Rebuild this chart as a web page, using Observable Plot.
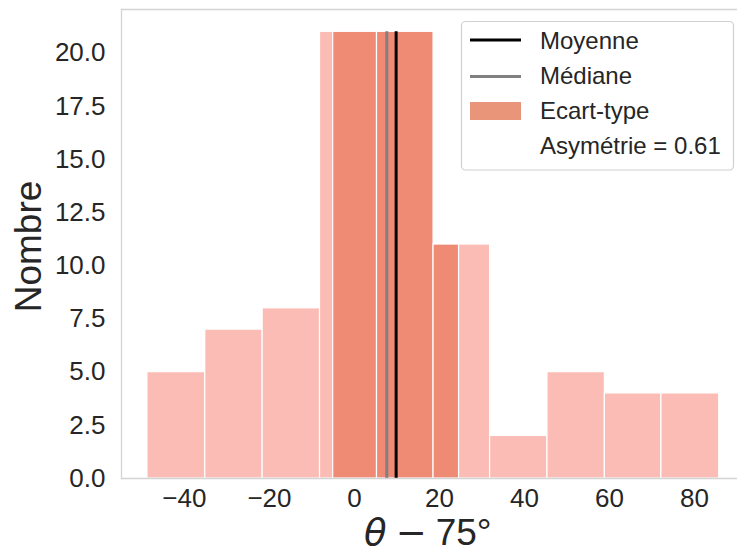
<!DOCTYPE html>
<html>
<head>
<meta charset="utf-8">
<script src="https://cdn.jsdelivr.net/npm/d3@7"></script>
<script src="https://cdn.jsdelivr.net/npm/@observablehq/plot@0.6"></script>
<style>
  html, body { margin: 0; padding: 0; background: white; }
  #chart { width: 737px; height: 554px; }
</style>
</head>
<body>
<div id="chart"></div>
<script>
// ---- data ----
const binEdges = [-48.7, -35.1, -21.6, -8.1, 5.3, 18.6, 31.9, 45.4, 58.9, 72.2, 85.8];
const counts   = [5, 7, 8, 21, 21, 11, 2, 5, 4, 4];
const stdEdges  = [-5.0, 5.3, 18.6, 24.6];
const stdCounts = [21, 21, 11];
const meanValue   = 9.8;
const medianValue = 7.6;
const skewness    = 0.61;
const xTicks = [-40, -20, 0, 20, 40, 60, 80];
const yTicks = [0, 2.5, 5, 7.5, 10, 12.5, 15, 17.5, 20];
const legendLabels = ["Moyenne", "Médiane", "Ecart-type", "Asymétrie = " + skewness.toFixed(2)];
const xLabelParts = ["θ", "−", "75°"];
const yLabel = "Nombre";

// ---- tables built from the arrays ----
const bins = counts.map((c, i) => ({x1: binEdges[i], x2: binEdges[i + 1], y: c}));
const stdBins = stdCounts.map((c, i) => ({x1: stdEdges[i], x2: stdEdges[i + 1], y: c}));
const maxCount = d3.max(counts);

const lightFill = "#fbbcb6";
const darkFill = "#ef8a75";
const legendPatch = "#e9957a";
const textColor = "#262626";
const spineColor = "#d4d4d4";

const minusFmt = d => (d < 0 ? "\u2212" + Math.abs(d) : String(d));

const svg = Plot.plot({
  width: 737,
  height: 554,
  marginLeft: 121,
  marginRight: 0,
  marginTop: 9,
  marginBottom: 76,
  style: {
    fontFamily: "'Liberation Sans', Arial, sans-serif",
    fontSize: "26px",
    color: textColor,
    background: "white"
  },
  x: {domain: [-54.8, 90.1]},
  y: {domain: [0, 22.05]},
  marks: [
    Plot.rectY(bins, {x1: "x1", x2: "x2", y: "y", fill: lightFill, stroke: "white", strokeWidth: 1.2}),
    Plot.rectY(stdBins, {x1: "x1", x2: "x2", y: "y", fill: darkFill, stroke: "white", strokeWidth: 1.2}),
    Plot.ruleX([medianValue], {x: d => d, y1: () => 0, y2: () => maxCount, stroke: "#808080", strokeWidth: 3}),
    Plot.ruleX([meanValue], {x: d => d, y1: () => 0, y2: () => maxCount, stroke: "black", strokeWidth: 3}),
    Plot.frame({anchor: "left", stroke: spineColor, strokeWidth: 1.3}),
    Plot.frame({anchor: "top", stroke: spineColor, strokeWidth: 1.3}),
    Plot.frame({anchor: "bottom", stroke: spineColor, strokeWidth: 1.3}),
    Plot.axisX({ticks: xTicks, tickSize: 0, tickPadding: 10, tickFormat: minusFmt, label: null, fontSize: 26}),
    Plot.axisY({ticks: yTicks, tickSize: 0, tickPadding: 16, tickFormat: d3.format(".1f"), label: null, fontSize: 26})
  ]
});

document.getElementById("chart").appendChild(svg);

const s = d3.select(svg);
const font = "'Liberation Sans', Arial, sans-serif";

// y label
s.append("text")
  .attr("transform", "translate(41,246.5) rotate(-90)")
  .attr("text-anchor", "middle")
  .attr("font-family", font)
  .attr("font-size", 37)
  .attr("fill", textColor)
  .text(yLabel);

// x label
const xl = s.append("text")
  .attr("x", 364)
  .attr("y", 545)
  .attr("text-anchor", "start")
  .attr("font-family", font)
  .attr("font-size", 37)
  .attr("fill", textColor);
xl.append("tspan").attr("font-family", "'DejaVu Sans', sans-serif").attr("font-style", "italic").text(xLabelParts[0]);
xl.append("tspan").attr("dx", 9).attr("font-family", "'DejaVu Sans', sans-serif").text(xLabelParts[1]);
xl.append("tspan").attr("dx", 9).text(xLabelParts[2]);

// legend
const lg = s.append("g");
lg.append("rect")
  .attr("x", 461.5).attr("y", 21.5).attr("width", 272).attr("height", 148.5)
  .attr("rx", 4).attr("fill", "white").attr("fill-opacity", 0.85)
  .attr("stroke", "#d0d0d0").attr("stroke-width", 1.2);
const rowY = [40, 76.5, 111, 147];
lg.append("line").attr("x1", 470).attr("x2", 521).attr("y1", rowY[0]).attr("y2", rowY[0])
  .attr("stroke", "black").attr("stroke-width", 3);
lg.append("line").attr("x1", 470).attr("x2", 521).attr("y1", rowY[1]).attr("y2", rowY[1])
  .attr("stroke", "#808080").attr("stroke-width", 3);
lg.append("rect").attr("x", 470).attr("y", 102).attr("width", 51).attr("height", 18)
  .attr("fill", legendPatch);
const baselines = [48.5, 84.3, 118.5, 154.3];
legendLabels.forEach((t, i) => {
  lg.append("text")
    .attr("x", 540).attr("y", baselines[i])
    .attr("text-anchor", "start")
    .attr("font-family", font).attr("font-size", 24)
    .attr("fill", textColor)
    .text(t);
});
</script>
</body>
</html>
